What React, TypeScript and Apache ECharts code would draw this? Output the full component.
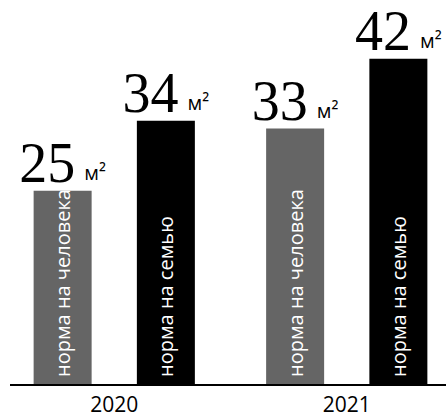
import React, { useEffect, useRef } from "react";
import * as echarts from "echarts";

const years = ["2020", "2021"];
const perPerson = [25, 33];
const perFamily = [34, 42];
const perPersonName = "норма на человека";
const perFamilyName = "норма на семью";
const unit = "м²";

export default function App() {
  const ref = useRef<HTMLDivElement>(null);
  useEffect(() => {
    const chart = echarts.init(ref.current!, null, { renderer: "svg" });
    const valueLabel = (arr: number[]) => ({
      show: true,
      position: "top",
      distance: 6,
      formatter: (p: any) => `{n|${arr[p.dataIndex]}}{u|${unit}}`,
      rich: {
        n: {
          fontFamily: "Liberation Serif",
          fontSize: 56,
          lineHeight: 44,
          color: "#000",
        },
        u: {
          fontFamily: "Open Sans",
          fontSize: 20,
          lineHeight: 20,
          color: "#000",
          verticalAlign: "bottom",
          padding: [0, 0, 2, 9],
        },
      },
    });
    const insideLabel = (name: string) => ({
      show: true,
      position: "insideBottom",
      rotate: 90,
      align: "left",
      verticalAlign: "middle",
      distance: 8,
      formatter: name,
      color: "#fff",
      fontFamily: "Open Sans",
      fontSize: 20,
    });
    chart.setOption({
      animation: false,
      grid: { left: -2, width: 465, top: 12, bottom: 31, outerBoundsMode: "none", containLabel: false },
      xAxis: {
        type: "category",
        data: years,
        axisLine: { show: false },
        axisTick: { show: false },
        axisLabel: {
          color: "#000",
          fontFamily: "Open Sans",
          fontSize: 21,
          margin: 8,
        },
      },
      yAxis: { type: "value", min: 0, max: 48, show: false, splitLine: { show: false } },
      series: [
        {
          type: "bar",
          name: perPersonName,
          stack: "a",
          data: perPerson,
          barWidth: 58,
          barGap: "78%",
          itemStyle: { color: "#656565" },
          label: insideLabel(perPersonName),
        },
        {
          type: "bar",
          name: perFamilyName,
          stack: "b",
          data: perFamily,
          barWidth: 58,
          barGap: "78%",
          itemStyle: { color: "#000" },
          label: insideLabel(perFamilyName),
        },
        {
          type: "bar",
          stack: "a",
          data: perPerson.map(() => 0),
          barWidth: 58,
          barGap: "78%",
          itemStyle: { color: "transparent" },
          label: valueLabel(perPerson),
        },
        {
          type: "bar",
          stack: "b",
          data: perFamily.map(() => 0),
          barWidth: 58,
          barGap: "78%",
          itemStyle: { color: "transparent" },
          label: valueLabel(perFamily),
        },
      ],
      graphic: [
        {
          type: "line",
          shape: { x1: 10, y1: 385, x2: 446, y2: 385 },
          style: { stroke: "#000", lineWidth: 2 },
          z: 10,
        },
      ],
    });
    return () => chart.dispose();
  }, []);
  return (
    <div
      ref={ref}
      style={{ position: "fixed", left: 0, top: 0, width: 446, height: 416, background: "#fff" }}
    />
  );
}
